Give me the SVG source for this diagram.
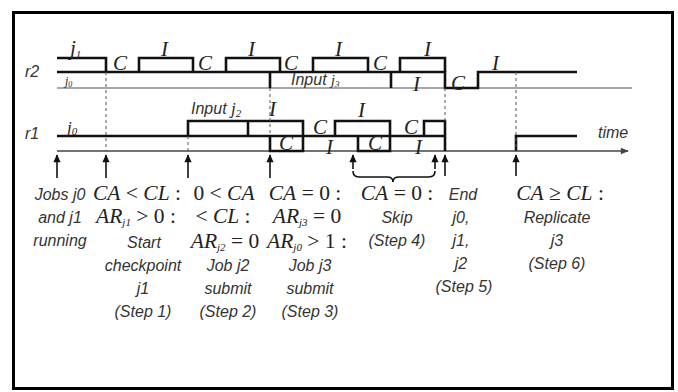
<svg xmlns="http://www.w3.org/2000/svg" width="678" height="392" viewBox="0 0 678 392">
<style>
.w{fill:none;stroke:#111;stroke-width:2.6;stroke-linejoin:miter}
.g{fill:none;stroke:#8a8a8a;stroke-width:1.3}
.ax{fill:none;stroke:#444;stroke-width:1.4}
.d{fill:none;stroke:#555;stroke-width:1;stroke-dasharray:3,3}
.ar{fill:none;stroke:#111;stroke-width:1.6}
.m{font-family:"Liberation Serif",serif;font-style:italic;fill:#222}
.mu{font-style:normal}
.s{font-family:"Liberation Sans",Arial,sans-serif;font-style:italic;fill:#333;font-size:16px}
.lab{font-family:"Liberation Serif",serif;font-style:italic;fill:#222;font-size:21px}
.sub{font-size:11px}
.eq{font-size:21.5px}
</style>
<defs>
<marker id="ah" viewBox="0 0 10 10" refX="9" refY="5" markerWidth="11" markerHeight="8" markerUnits="userSpaceOnUse" orient="auto">
<path d="M0,0.5 L10,5 L0,9.5 Z" fill="#111"/>
</marker>
<marker id="ta" viewBox="0 0 10 10" refX="9" refY="5" markerWidth="10" markerHeight="8" markerUnits="userSpaceOnUse" orient="auto">
<path d="M0,1 L10,5 L0,9 Z" fill="#444"/>
</marker>
</defs>
<rect x="13.5" y="12.5" width="659" height="376" fill="#fff" stroke="#000" stroke-width="3"/>

<g id="axes">
<path class="g" d="M57,88 H632"/>
<path class="ax" d="M57,151 H628" marker-end="url(#ta)"/>
<text class="s" x="598" y="138" font-size="15">time</text>
<text class="s" x="25" y="77" font-size="17">r2</text>
<text class="s" x="25" y="139" font-size="17">r1</text>
</g>

<g id="r2">
<path class="w" d="M57,58 H106 V72"/>
<path class="w" d="M57,72 H445 V88 H478 V72 H577"/>
<path class="w" d="M139,72 V58 H193 V72 M226,72 V58 H280 V72 M313,72 V58 H368 V72 M400,72 V58 H445 V72"/>
<path class="w" d="M270,72 V88 M391,72 V88" stroke-width="2"/>
<text class="m" x="70" y="55" font-size="21">j<tspan class="sub" dy="3">1</tspan></text>
<text class="m" x="65" y="85" font-size="12">j<tspan font-size="8" dy="2">0</tspan></text>
<text class="lab" x="113" y="70">C</text>
<text class="lab" x="198" y="70">C</text>
<text class="lab" x="284" y="70">C</text>
<text class="lab" x="373" y="70">C</text>
<text class="lab" x="161" y="56">I</text>
<text class="lab" x="248" y="56">I</text>
<text class="lab" x="335" y="56">I</text>
<text class="lab" x="424" y="56">I</text>
<text class="s" x="291" y="85" font-size="12">Input <tspan class="m" font-size="14">j</tspan><tspan class="m" font-size="9" dy="2">3</tspan></text>
<text class="lab" x="413" y="91" font-size="19">I</text>
<text class="lab" x="451" y="90" font-size="19">C</text>
<text class="lab" x="492" y="70" font-size="19">I</text>
</g>

<g id="r1">
<path class="w" d="M57,136 H445"/>
<path class="w" d="M188,136 V121 H303 V151 H270 V136 M248,121 V136"/>
<path class="w" d="M335,136 V121 H390 V151 H358 V136"/>
<path class="w" d="M424,136 V121 H445 V151"/>
<path class="w" d="M516,151 V136 H577"/>
<text class="m" x="67" y="133" font-size="17">j<tspan font-size="11" dy="2">0</tspan></text>
<text class="s" x="191" y="114" font-size="13">Input <tspan class="m" font-size="17">j</tspan><tspan class="m" font-size="11" dy="3">2</tspan></text>
<text class="lab" x="269" y="116" font-size="19">I</text>
<text class="lab" x="279" y="150" font-size="16">C</text>
<text class="lab" x="313" y="134" font-size="20">C</text>
<text class="lab" x="326" y="154" font-size="19">I</text>
<text class="lab" x="358" y="117" font-size="19">I</text>
<text class="lab" x="368" y="150" font-size="16">C</text>
<text class="lab" x="404" y="134" font-size="20">C</text>
<text class="lab" x="415" y="154" font-size="19">I</text>
</g>

<g id="connectors">
<path class="d" d="M106,72 V151 M270,88 V136 M188,136 V151 M445,88 V121 M516,72 V151"/>
<line class="ar" x1="57" y1="178" x2="57" y2="155" marker-end="url(#ah)"/>
<line class="ar" x1="106" y1="178" x2="106" y2="155" marker-end="url(#ah)"/>
<line class="ar" x1="188" y1="178" x2="188" y2="155" marker-end="url(#ah)"/>
<line class="ar" x1="270" y1="178" x2="270" y2="155" marker-end="url(#ah)"/>
<line class="ar" x1="353" y1="169" x2="353" y2="155" marker-end="url(#ah)"/>
<line class="ar" x1="435" y1="169" x2="435" y2="155" marker-end="url(#ah)"/>
<line class="ar" x1="445" y1="176" x2="445" y2="155" marker-end="url(#ah)"/>
<line class="ar" x1="516" y1="176" x2="516" y2="155" marker-end="url(#ah)"/>
<path class="ar" d="M353,171 q0,6 6,6 H387 q6,0 6,5 q0,-5 6,-5 H429 q6,0 6,-6" stroke-width="1.3"/>
</g>

<g id="labels">
<g id="col1" text-anchor="middle">
<text class="s" x="60" y="200">Jobs j0</text>
<text class="s" x="60" y="223">and j1</text>
<text class="s" x="60" y="246">running</text>
</g>
<g id="col2" text-anchor="middle">
<text class="m eq" x="137" y="200">CA<tspan class="mu"> &lt; </tspan>CL<tspan class="mu"> :</tspan></text>
<text class="m eq" x="136" y="223">AR<tspan class="sub" dy="3">j1</tspan><tspan class="mu" dy="-3"> &gt; 0 :</tspan></text>
<text class="s" x="144" y="248">Start</text>
<text class="s" x="143" y="271">checkpoint</text>
<text class="s" x="143" y="294">j1</text>
<text class="s" x="143" y="317">(Step 1)</text>
</g>
<g id="col3" text-anchor="middle">
<text class="m eq" x="224" y="200"><tspan class="mu">0 &lt; </tspan>CA</text>
<text class="m eq" x="223" y="223"><tspan class="mu">&lt; </tspan>CL<tspan class="mu"> :</tspan></text>
<text class="m eq" x="225" y="248">AR<tspan class="sub" dy="3">j2</tspan><tspan class="mu" dy="-3"> = 0</tspan></text>
<text class="s" x="228" y="271">Job j2</text>
<text class="s" x="228" y="294">submit</text>
<text class="s" x="228" y="317">(Step 2)</text>
</g>
<g id="col4" text-anchor="middle">
<text class="m eq" x="305" y="200">CA<tspan class="mu"> = 0 :</tspan></text>
<text class="m eq" x="307" y="223">AR<tspan class="sub" dy="3">j3</tspan><tspan class="mu" dy="-3"> = 0</tspan></text>
<text class="m eq" x="307" y="248">AR<tspan class="sub" dy="3">j0</tspan><tspan class="mu" dy="-3"> &gt; 1 :</tspan></text>
<text class="s" x="310" y="271">Job j3</text>
<text class="s" x="310" y="294">submit</text>
<text class="s" x="310" y="317">(Step 3)</text>
</g>
<g id="col5" text-anchor="middle">
<text class="m eq" x="397" y="200">CA<tspan class="mu"> = 0 :</tspan></text>
<text class="s" x="397" y="223">Skip</text>
<text class="s" x="397" y="246">(Step 4)</text>
</g>
<g id="col6" text-anchor="middle">
<text class="s" x="463" y="200">End</text>
<text class="s" x="461" y="223">j0,</text>
<text class="s" x="461" y="246">j1,</text>
<text class="s" x="461" y="269">j2</text>
<text class="s" x="464" y="292">(Step 5)</text>
</g>
<g id="col7" text-anchor="middle">
<text class="m eq" x="560" y="200">CA<tspan class="mu"> ≥ </tspan>CL<tspan class="mu"> :</tspan></text>
<text class="s" x="557" y="223">Replicate</text>
<text class="s" x="557" y="246">j3</text>
<text class="s" x="557" y="269">(Step 6)</text>
</g>
</g>
</svg>
